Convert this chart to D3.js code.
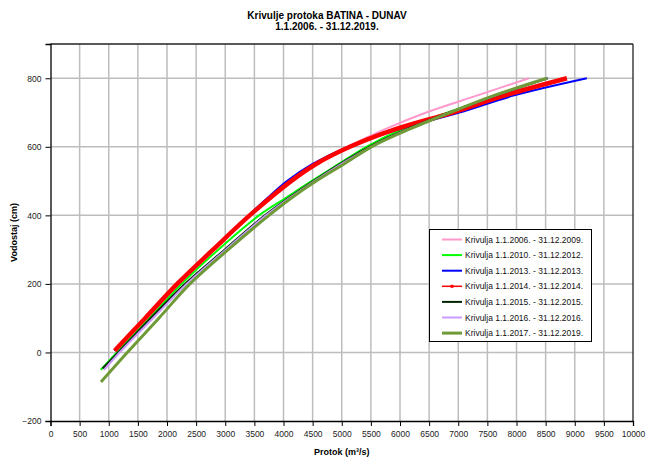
<!DOCTYPE html>
<html>
<head>
<meta charset="utf-8">
<script src="https://cdn.jsdelivr.net/npm/d3@7"></script>
<style>
  html, body { margin: 0; padding: 0; background: #fff; }
  svg { display: block; font-family: "Liberation Sans", Arial, sans-serif; }
</style>
</head>
<body>
<svg id="chart" width="649" height="459"></svg>
<script>
// ---------- DATA ----------
const titleLines = ["Krivulje protoka BATINA - DUNAV", "1.1.2006. - 31.12.2019."];
const xLabel = "Protok (m³/s)";
const yLabel = "Vodostaj (cm)";
const xTicks = d3.range(0, 10001, 500);
const yTicks = [-200, 0, 200, 400, 600, 800];

const seriesNames = [
  "Krivulja 1.1.2006. - 31.12.2009.",
  "Krivulja 1.1.2010. - 31.12.2012.",
  "Krivulja 1.1.2013. - 31.12.2013.",
  "Krivulja 1.1.2014. - 31.12.2014.",
  "Krivulja 1.1.2015. - 31.12.2015.",
  "Krivulja 1.1.2016. - 31.12.2016.",
  "Krivulja 1.1.2017. - 31.12.2019."
];
// discharge Q (m3/s) and stage H (cm) per curve
const q2006 = [1100, 1625, 2175, 2790, 3420, 4130, 4560, 5100, 5725, 6450, 7330, 8213];
const h2006 = [5, 100, 200, 300, 400, 500, 550, 600, 650, 700, 750, 800];
const q2010 = [861, 1140, 1700, 2250, 2880, 3580, 4030, 4480, 4950, 5424, 6020, 6820, 7650, 8520];
const h2010 = [-51, 0, 100, 200, 300, 400, 450, 500, 550, 600, 650, 700, 750, 800];
const q2013 = [1100, 1625, 2175, 2780, 3400, 3720, 4060, 4500, 5100, 5950, 7020, 7960, 9207];
const h2013 = [5, 100, 200, 300, 400, 450, 500, 550, 600, 650, 700, 750, 800];
const q2014 = [1100, 1625, 2175, 2790, 3420, 4130, 4560, 5140, 5900, 6900, 7800, 8865];
const h2014 = [5, 100, 200, 300, 400, 500, 550, 600, 650, 700, 750, 800];
const q2015 = [895, 1160, 1720, 2307, 2990, 3680, 4510, 5470, 6100, 6850, 7650, 8540];
const h2015 = [-47, 0, 100, 200, 300, 400, 500, 600, 650, 700, 750, 800];
const q2016 = [918, 1185, 1760, 2336, 3010, 3700, 4530, 5500, 6120, 6860, 7640, 8530];
const h2016 = [-51, 0, 100, 200, 300, 400, 500, 600, 650, 700, 750, 800];
const q2017 = [866, 1318, 1860, 2393, 3050, 3750, 4130, 4560, 5040, 5510, 6140, 6860, 7620, 8521];
const h2017 = [-86, 0, 100, 200, 300, 400, 450, 500, 550, 600, 650, 700, 750, 800];

const seriesColors = ["#ff99cc", "#00ff00", "#0000ff", "#ff0000", "#002600", "#cc99ff", "#6f9a37"];
const seriesWidths = [2, 2, 2, 4.5, 2, 2, 3];

const allQ = [q2006, q2010, q2013, q2014, q2015, q2016, q2017];
const allH = [h2006, h2010, h2013, h2014, h2015, h2016, h2017];

// ---------- LAYOUT ----------
const svg = d3.select("#chart");
const L = 50.5, R = 633, T = 44, B = 421;
const x = d3.scaleLinear().domain([0, 10000]).range([L, R]);
const y = d3.scaleLinear().domain([-200, 900]).range([B, T]);

// title
svg.append("text").attr("x", 327).attr("y", 19).attr("text-anchor", "middle")
  .attr("font-size", "10px").attr("font-weight", "bold").text(titleLines[0]);
svg.append("text").attr("x", 327).attr("y", 30).attr("text-anchor", "middle")
  .attr("font-size", "10px").attr("font-weight", "bold").text(titleLines[1]);

// grid
const grid = svg.append("g");
grid.selectAll(".vg").data(xTicks.filter(d => d > 0 && d < 10000)).enter().append("line")
  .attr("x1", d => x(d)).attr("x2", d => x(d)).attr("y1", T).attr("y2", B)
  .attr("stroke", "#bdbdbd").attr("stroke-width", 1.5);
grid.selectAll(".hg").data(yTicks.filter(d => d > -200)).enter().append("line")
  .attr("x1", L).attr("x2", R).attr("y1", d => y(d)).attr("y2", d => y(d))
  .attr("stroke", "#bdbdbd").attr("stroke-width", 1.5);

// top & right border
svg.append("line").attr("x1", L).attr("x2", R).attr("y1", T).attr("y2", T).attr("stroke", "#222").attr("stroke-width", 1.3);
svg.append("line").attr("x1", R).attr("x2", R).attr("y1", T).attr("y2", B).attr("stroke", "#222").attr("stroke-width", 1.3);

// curves
const line = d3.line().x(d => x(d[0])).y(d => y(d[1])).curve(d3.curveCatmullRom.alpha(0.5));
const curves = svg.append("g");
allQ.forEach((qs, i) => {
  const pts = qs.map((q, j) => [q, allH[i][j]]);
  curves.append("path").datum(pts).attr("d", line)
    .attr("fill", "none").attr("stroke", seriesColors[i])
    .attr("stroke-width", seriesWidths[i]).attr("stroke-linejoin", "round");
});

// axes
const xAxis = d3.axisBottom(x).tickValues(xTicks).tickSize(5).tickPadding(5).tickFormat(d3.format("d"));
const gx = svg.append("g").attr("transform", `translate(0,${B})`).call(xAxis);
const yAxis = d3.axisLeft(y).tickValues(yTicks).tickSize(5).tickPadding(4).tickFormat(d3.format("d"));
const gy = svg.append("g").attr("transform", `translate(${L},0)`).call(yAxis);
[gx, gy].forEach(g => {
  g.select(".domain").attr("stroke", "#000").attr("stroke-width", 1.3);
  g.selectAll(".tick line").attr("stroke", "#000");
  g.selectAll(".tick text").attr("font-size", "8.5px").attr("fill", "#222")
    .attr("font-family", "Liberation Sans, Arial, sans-serif");
});

// axis titles
svg.append("text").attr("x", (L + R) / 2).attr("y", 455).attr("text-anchor", "middle")
  .attr("font-size", "9px").attr("font-weight", "bold").text(xLabel);
svg.append("text").attr("transform", `translate(17,${(T + B) / 2}) rotate(-90)`)
  .attr("text-anchor", "middle").attr("font-size", "9px").attr("font-weight", "bold").text(yLabel);

// legend
const lg = svg.append("g");
lg.append("rect").attr("x", 429.5).attr("y", 229.5).attr("width", 162).attr("height", 112)
  .attr("fill", "#fff").attr("stroke", "#000").attr("stroke-width", 1);
seriesNames.forEach((name, i) => {
  const cy = 239.5 + i * 15.6;
  lg.append("line").attr("x1", 442).attr("x2", 462).attr("y1", cy).attr("y2", cy)
    .attr("stroke", seriesColors[i]).attr("stroke-width", i === 3 ? 1.5 : seriesWidths[i]);
  if (i === 3) {
    lg.append("rect").attr("x", 450.5).attr("y", cy - 1.5).attr("width", 3).attr("height", 3).attr("fill", seriesColors[i]);
  }
  lg.append("text").attr("x", 465).attr("y", cy + 3).attr("font-size", "8.5px").attr("fill", "#111").text(name);
});
</script>
</body>
</html>
